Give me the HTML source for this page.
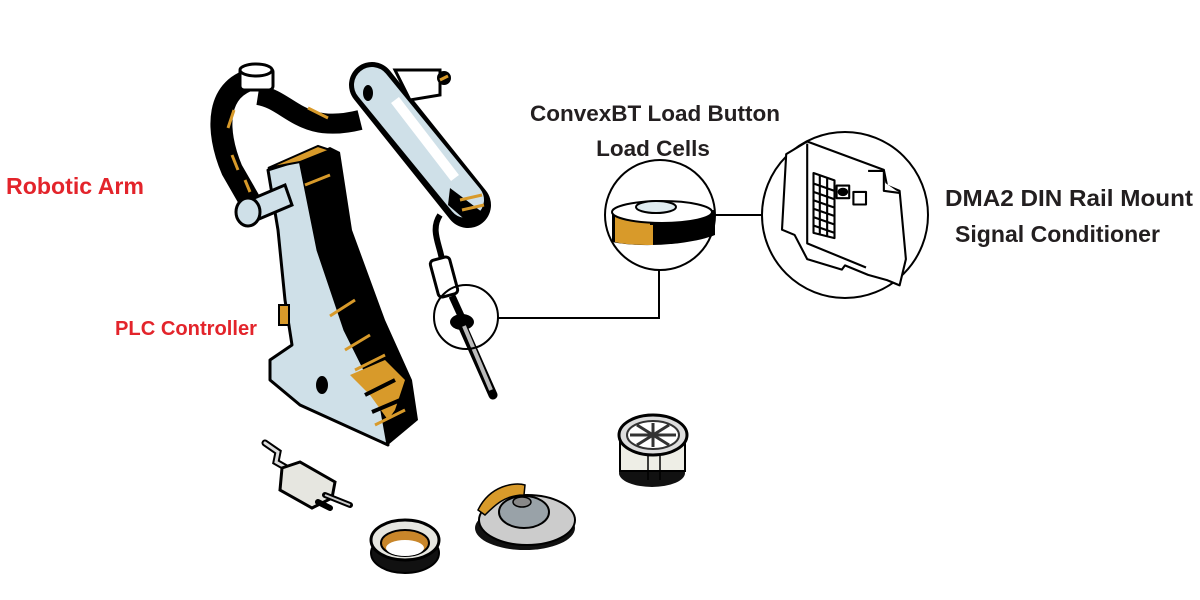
<!DOCTYPE html>
<html><head><meta charset="utf-8"><style>
html,body{margin:0;padding:0;background:#fff;width:1200px;height:600px;overflow:hidden}
svg{display:block}
text{font-family:"Liberation Sans",Arial,sans-serif;font-weight:bold}
</style></head><body>
<svg width="1200" height="600" viewBox="0 0 1200 600" xmlns="http://www.w3.org/2000/svg">
<!-- arch -->
<path d="M258 78 C215 85 215 130 232 170 L255 210" fill="none" stroke="#000" stroke-width="22" stroke-linecap="round"/>
<path d="M258 95 C290 100 300 135 360 120" fill="none" stroke="#000" stroke-width="20"/>
<path d="M234 110 L228 128 M232 155 L238 170 M308 108 L328 118 M245 180 L250 192" stroke="#d89a2a" stroke-width="3"/>
<!-- pin top -->
<rect x="240" y="68" width="33" height="22" rx="4" fill="#fff" stroke="#000" stroke-width="3"/>
<ellipse cx="256" cy="70" rx="16" ry="6" fill="#fff" stroke="#000" stroke-width="3"/>
<!-- upper arm -->
<path d="M372 85 L468 205" stroke="#000" stroke-width="46" stroke-linecap="round"/>
<path d="M372 85 L466 200" stroke="#cfe0e8" stroke-width="36" stroke-linecap="round"/>
<path d="M395 100 L455 178" stroke="#fff" stroke-width="10"/>
<path d="M450 188 L482 212 L470 224 L448 205 Z" fill="#000"/>
<path d="M460 200 L482 195 M462 210 L484 205" stroke="#d89a2a" stroke-width="3"/>
<path d="M395 70 L440 70 L440 95 L410 100 Z" fill="#fff" stroke="#000" stroke-width="3"/>
<circle cx="444" cy="78" r="7" fill="#000"/>
<path d="M440 80 L448 76" stroke="#d89a2a" stroke-width="3"/>
<ellipse cx="368" cy="93" rx="5" ry="8" fill="#000"/>
<!-- pillar -->
<path d="M300 160 L330 147 L340 152 L352 230 L385 320 L412 380 L418 420 L388 445 L380 400 L345 330 L318 250 Z" fill="#000"/>
<path d="M268 170 L300 160 L318 250 L345 330 L380 400 L388 445 L300 405 L270 380 L270 360 L292 345 L285 300 L278 230 Z" fill="#cfe0e8" stroke="#000" stroke-width="3" stroke-linejoin="round"/>
<path d="M268 168 L318 146 L330 150 L300 162 Z" fill="#d89a2a" stroke="#000" stroke-width="2"/>
<path d="M350 375 L385 360 L405 380 L395 410 L388 420 L370 395 Z" fill="#d89a2a"/>
<path d="M305 185 L330 175 M330 316 L355 300 M345 350 L370 335 M355 370 L385 355 M375 425 L405 410" stroke="#d89a2a" stroke-width="3"/>
<path d="M365 395 L395 380 M372 412 L405 398" stroke="#000" stroke-width="4"/>
<ellipse cx="322" cy="385" rx="6" ry="9" fill="#000"/>
<!-- side pin -->
<path d="M245 202 L285 185 L292 205 L252 222 Z" fill="#cfe0e8" stroke="#000" stroke-width="3"/>
<ellipse cx="248" cy="212" rx="12" ry="14" fill="#cfe0e8" stroke="#000" stroke-width="3"/>
<rect x="279" y="305" width="10" height="20" fill="#d89a2a" stroke="#000" stroke-width="2"/>
<!-- tool chain -->
<path d="M440 215 C430 230 440 245 442 260" fill="none" stroke="#000" stroke-width="6"/>
<rect x="434" y="258" width="20" height="38" rx="4" transform="rotate(-15 444 277)" fill="#fff" stroke="#000" stroke-width="3"/>
<path d="M452 296 L462 318" stroke="#000" stroke-width="7"/>
<ellipse cx="462" cy="322" rx="12" ry="8" fill="#000"/>
<path d="M462 325 L493 395" stroke="#000" stroke-width="9" stroke-linecap="round"/>
<path d="M464 326 L491 390" stroke="#bbb" stroke-width="4"/>
<!-- connectors -->
<circle cx="466" cy="317" r="32" fill="none" stroke="#000" stroke-width="2"/>
<path d="M498 318 L659 318 L659 270" fill="none" stroke="#000" stroke-width="2"/>
<path d="M715 215 L765 215" stroke="#000" stroke-width="2"/>
<!-- load cell circle -->
<circle cx="660" cy="215" r="55" fill="#fff" stroke="#000" stroke-width="2"/>
<path d="M612 213 L715 210 L715 235 C690 245 640 248 612 242 Z" fill="#000"/>
<path d="M615 214 L650 212 L650 245 C635 245 622 244 615 242 Z" fill="#d89a2a"/>
<rect x="648" y="225" width="5" height="20" fill="#d89a2a"/>
<ellipse cx="662" cy="212" rx="50" ry="11" fill="#fff" stroke="#000" stroke-width="2"/>
<ellipse cx="656" cy="207" rx="20" ry="6" fill="#e0ecf0" stroke="#000" stroke-width="2"/>
<!-- DMA2 circle -->
<circle cx="845" cy="215" r="83" fill="#fff" stroke="#000" stroke-width="2"/>
<g fill="#fff" stroke="#000" stroke-width="2" stroke-linejoin="round" transform="translate(845 215) scale(1.05) translate(-848 -218)">
<path d="M792 160 L812 148 L885 175 L888 190 L900 195 L906 260 L900 285 L888 280 L870 275 L848 266 L845 270 L812 260 L800 237 L788 232 Z"/>
<path d="M812 150 L812 245 L868 268"/>
<path d="M818 178 L838 185 L838 240 L818 235 Z M824 180 L824 237 M831 182 L831 238 M818 188 L838 195 M818 196 L838 203 M818 204 L838 211 M818 212 L838 219 M818 220 L838 227 M818 228 L838 235"/>
<rect x="840" y="190" width="12" height="12"/><rect x="856" y="196" width="12" height="12"/>
<path d="M870 176 L885 176 L885 195 L900 197"/>
<ellipse cx="846" cy="196" rx="4" ry="3" fill="#000"/>
</g>
<!-- bottom parts: muffler -->
<path d="M265 443 L278 452 L276 462 L290 470" fill="none" stroke="#000" stroke-width="7" stroke-linecap="round"/>
<path d="M265 443 L278 452 L276 462 L290 470" fill="none" stroke="#ddd" stroke-width="3" stroke-linecap="round"/>
<path d="M282 468 L300 462 L335 482 L332 498 L312 508 L280 490 Z" fill="#e6e6e0" stroke="#000" stroke-width="3"/>
<path d="M325 495 L350 505 M318 502 L330 508" stroke="#000" stroke-width="6" stroke-linecap="round"/>
<path d="M325 495 L350 505" stroke="#ccc" stroke-width="2"/>
<!-- bearing -->
<ellipse cx="405" cy="553" rx="34" ry="20" fill="#111" stroke="#000" stroke-width="2"/>
<ellipse cx="405" cy="540" rx="34" ry="20" fill="#e6e6e0" stroke="#000" stroke-width="3"/>
<ellipse cx="405" cy="543" rx="24" ry="13" fill="#c8862a" stroke="#000" stroke-width="2"/>
<ellipse cx="405" cy="548" rx="19" ry="8" fill="#fff"/>
<!-- brake disc -->
<ellipse cx="525" cy="528" rx="50" ry="22" fill="#111"/>
<ellipse cx="527" cy="520" rx="48" ry="25" fill="#ccc" stroke="#000" stroke-width="2"/>
<path d="M478 510 C490 485 515 482 525 485 L524 495 C505 495 495 505 485 515 Z" fill="#d89a2a" stroke="#000" stroke-width="1.5"/>
<ellipse cx="524" cy="512" rx="25" ry="16" fill="#99a2a8" stroke="#000" stroke-width="2"/>
<ellipse cx="522" cy="502" rx="9" ry="5" fill="#888" stroke="#000" stroke-width="1.5"/>
<!-- wheel -->
<ellipse cx="652" cy="473" rx="33" ry="14" fill="#111"/>
<rect x="620" y="437" width="65" height="34" fill="#eeeee6" stroke="#000" stroke-width="2"/>
<path d="M648 445 L648 480 M660 445 L660 480" stroke="#000" stroke-width="1.5"/>
<ellipse cx="653" cy="435" rx="34" ry="20" fill="#ddd" stroke="#000" stroke-width="3"/>
<ellipse cx="653" cy="435" rx="26" ry="14" fill="#fff" stroke="#333" stroke-width="2"/>
<path d="M653 423 L653 447 M630 435 L676 435 M637 425 L669 445 M669 425 L637 445" stroke="#333" stroke-width="3"/>
<!-- text -->
<text x="655" y="121" font-size="22.5" text-anchor="middle" fill="#231f20">ConvexBT Load Button</text>
<text x="653" y="156" font-size="22.5" text-anchor="middle" fill="#231f20">Load Cells</text>
<text x="945" y="206" font-size="23.5" fill="#231f20" textLength="248" lengthAdjust="spacingAndGlyphs">DMA2 DIN Rail Mount</text>
<text x="955" y="242" font-size="23" fill="#231f20" textLength="205" lengthAdjust="spacingAndGlyphs">Signal Conditioner</text>
<text x="6" y="194" font-size="23" fill="#e3242b" textLength="138" lengthAdjust="spacingAndGlyphs">Robotic Arm</text>
<text x="115" y="335" font-size="20" fill="#e3242b" textLength="142" lengthAdjust="spacingAndGlyphs">PLC Controller</text>
</svg>
</body></html>
